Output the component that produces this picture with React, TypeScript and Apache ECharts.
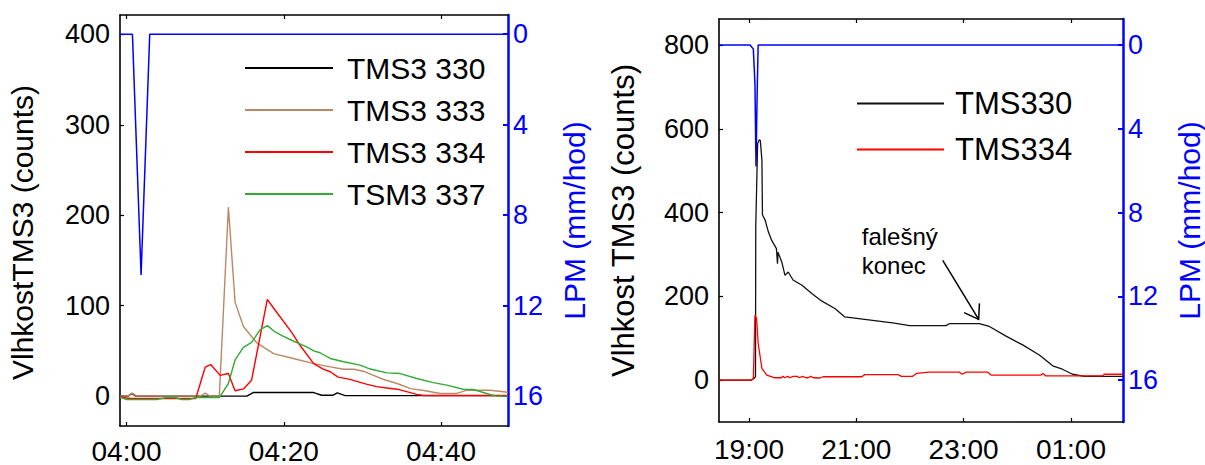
import React, { useEffect, useRef } from "react";
import * as echarts from "echarts";

// ---------- Left panel (x = minutes after 04:00) ----------
const leftTicksX = [0, 20, 40];
const leftTicksY = [0, 100, 200, 300, 400];
const lpmTicks = [0, 4, 8, 12, 16];

const rainLeft = [[-0.83, 0], [0.75, 0], [1.85, 10.65], [2.95, 0], [48.5, 0]];
const tms3_330 = [[-0.83, 0], [0.2, 0], [0.66, 3], [1.2, 0], [15.3, 0], [16.1, 4], [23.8, 4], [24.8, 1], [26.2, 1], [26.8, 3.7], [27.8, 0.6], [48.5, 0.6]];
const tms3_333 = [[-0.83, 0], [0.2, 0], [0.7, 3.5], [1.3, 0], [9.4, 0], [10, 3.5], [10.6, 0], [11.8, 0], [12.95, 209], [13.8, 104], [14.86, 77], [16.56, 59], [18.7, 47], [21.2, 41.7], [23.8, 36], [25.9, 32.4], [27.6, 29.8], [28.9, 29.8], [30.1, 27.6], [31.4, 23], [32.7, 18.4], [34.4, 14], [36.1, 8.3], [37.8, 6.3], [39.9, 3], [42, 3], [43.3, 6.6], [46.2, 6.6], [48.5, 4.4]];
const tms3_334 = [[-0.83, -1], [0.5, -2.6], [8.8, -2.6], [10, 32], [10.7, 35], [11.9, 23], [12.95, 25], [13.8, 6], [14.86, 8], [15.9, 17.7], [17.9, 107], [18.9, 95], [21, 70.5], [22.07, 56], [23.8, 36], [25, 30], [25.9, 27], [26.9, 21], [28.4, 18.5], [30.6, 13], [31.8, 10.5], [33.1, 9], [34.4, 7.7], [35.6, 5], [36.9, 2], [37.8, 0.8], [48.5, 0.8]];
const tsm3_337 = [[-0.83, -1], [0, -3.7], [3.8, -3.7], [5.1, -1.5], [6.2, -1.5], [7.0, -3.7], [8.0, -3.7], [8.8, -1.5], [11.8, -1.5], [12.95, 14], [13.8, 40], [14.86, 54], [15.9, 59.5], [17, 73.5], [17.9, 78], [18.9, 71], [19.95, 66], [21.2, 61], [22.9, 54.5], [23.8, 50], [24.6, 48], [25.9, 41.7], [27.6, 38], [29.7, 34.3], [31, 30], [33.1, 25.8], [34.8, 25], [36.9, 19.5], [39, 15], [40.7, 12.2], [42.8, 7.7], [44.1, 7.4], [46.2, 1.8], [47.1, 0], [48.5, 0]];

// ---------- Right panel (x = hours of day, 25 = 01:00 next day) ----------
const rightTicksX = [19, 21, 23, 25];
const rightTicksY = [0, 200, 400, 600, 800];

const rainRight = [[18.44, 0], [19.02, 0], [19.08, 0.2], [19.11, 1.85], [19.13, 5.8], [19.15, 2.5], [19.16, 1.2], [19.17, 0], [25.97, 0]];
const tms330 = [[18.44, 0], [19.05, 0], [19.1, 5], [19.12, 8], [19.125, 366], [19.16, 565], [19.19, 574], [19.21, 572], [19.24, 525], [19.25, 394], [19.3, 382], [19.36, 354], [19.42, 334], [19.51, 314], [19.53, 278], [19.54, 305], [19.61, 282], [19.67, 250], [19.73, 258], [19.82, 239], [19.98, 227], [20.17, 207], [20.35, 189], [20.6, 171], [20.78, 151], [20.97, 148], [21.34, 142], [21.71, 136], [21.99, 130], [22.67, 130], [22.74, 135], [23.29, 135], [23.48, 128], [23.79, 105], [24.1, 84], [24.41, 60], [24.66, 34], [24.84, 26], [25.03, 14], [25.25, 9], [25.97, 9]];
const tms334 = [[18.44, 0], [19.02, 0], [19.08, 3], [19.11, 155], [19.14, 147], [19.17, 88], [19.24, 28], [19.33, 12], [19.48, 5.6], [19.6, 5.6], [19.63, 9], [19.66, 5.6], [19.72, 9], [19.76, 5.6], [19.82, 9], [19.9, 9], [19.93, 5.6], [20.0, 9], [20.06, 5.6], [20.1, 5.6], [20.15, 9], [20.2, 5.6], [20.32, 5], [20.38, 8], [21.1, 8], [21.16, 13], [21.78, 13], [21.84, 9], [22.05, 9], [22.12, 16], [22.36, 19], [22.92, 19], [22.97, 14], [23.05, 19], [23.45, 19], [23.51, 12], [24.44, 12], [24.48, 16], [24.53, 10], [25.59, 10], [25.62, 14], [25.97, 14]];

const noteText = "falešný\nkonec";
const noteAnchor = [21.1, 377];
const arrowFrom = [22.61, 286];
const arrowTo = [23.28, 145];

const FONT = '"Liberation Sans", Arial, sans-serif';
const BLUE = "#0000ff";
const pad = (n: number) => String(n).padStart(2, "0");

function xAxisPair(grid: number, min: number, max: number, ticks: number[], fmt: (v: number) => string, margin: number) {
  const line = { show: true, onZero: false, lineStyle: { color: "#000", width: 1.6 } };
  return [
    {
      type: "value", gridIndex: grid, position: "bottom", min, max,
      axisLine: line,
      axisTick: { show: true, inside: true, length: 4, customValues: ticks, lineStyle: { color: "#000", width: 1.2 } },
      axisLabel: { show: true, customValues: ticks, formatter: fmt, fontSize: 28, color: "#000", margin, fontFamily: FONT },
      splitLine: { show: false },
    },
    {
      type: "value", gridIndex: grid, position: "top", min, max,
      axisLine: line,
      axisTick: { show: true, inside: true, length: 4, customValues: ticks, lineStyle: { color: "#000", width: 1.2 } },
      axisLabel: { show: false },
      splitLine: { show: false },
    },
  ];
}

function yAxisPair(grid: number, min: number, max: number, ticks: number[], lmin: number, lmax: number, name: string, nameGap: number, nameSize: number, namePad: number[]) {
  return [
    {
      type: "value", gridIndex: grid, position: "left", min, max,
      axisLine: { show: true, onZero: false, lineStyle: { color: "#000", width: 1.6 } },
      axisTick: { show: true, inside: true, length: 4, customValues: ticks, lineStyle: { color: "#000", width: 1.2 } },
      axisLabel: { show: true, customValues: ticks, fontSize: 27, color: "#000", margin: 10, fontFamily: FONT },
      splitLine: { show: false },
      name, nameLocation: "middle", nameGap, nameRotate: 90,
      nameTextStyle: { fontSize: nameSize, color: "#000", fontFamily: FONT, padding: namePad },
    },
    {
      type: "value", gridIndex: grid, position: "right", min: lmin, max: lmax, inverse: true,
      axisLine: { show: true, onZero: false, lineStyle: { color: BLUE, width: 2.5 } },
      axisTick: { show: true, inside: true, length: 5, customValues: lpmTicks, lineStyle: { color: BLUE, width: 2 } },
      axisLabel: { show: true, customValues: lpmTicks, fontSize: 27, color: BLUE, margin: 5, fontFamily: FONT },
      splitLine: { show: false },
      name: "LPM (mm/hod)", nameLocation: "middle", nameGap: 51, nameRotate: 90,
      nameTextStyle: { fontSize: 30, color: BLUE, fontFamily: FONT },
    },
  ];
}

function line(name: string, data: number[][], color: string, xi: number, yi: number, width = 1.4, z = 2) {
  return {
    type: "line", name, data, xAxisIndex: xi, yAxisIndex: yi, symbol: "none", showSymbol: false,
    lineStyle: { color, width }, itemStyle: { color }, z, silent: true,
  };
}

export default function App() {
  const ref = useRef<HTMLDivElement>(null);
  useEffect(() => {
    if (!ref.current) return;
    const chart = echarts.init(ref.current, null, { renderer: "svg" });
    const option: any = {
      animation: false,
      textStyle: { fontFamily: FONT },
      grid: [
        { left: 120, right: 697, top: 15, bottom: 39, containLabel: false },
        { left: 719, right: 81, top: 19, bottom: 43, containLabel: false },
      ],
      xAxis: [
        ...xAxisPair(0, -0.83, 48.5, leftTicksX, (v: number) => `04:${pad(Math.round(v))}`, 11),
        ...xAxisPair(1, 18.44, 25.97, rightTicksX, (v: number) => `${pad(Math.round(v) % 24)}:00`, 13),
      ],
      yAxis: [
        ...yAxisPair(0, -33, 421.5, leftTicksY, -0.85, 17.33, "VlhkostTMS3 (counts)", 83, 30, [0, 24, 0, 0]),
        ...yAxisPair(1, -100, 862, rightTicksY, -1.24, 18.0, "Vlhkost TMS3 (counts)", 80, 31, [0, 0, 0, 0]),
      ],
      legend: [
        {
          data: ["TMS3 330", "TMS3 333", "TMS3 334", "TSM3 337"],
          orient: "vertical", left: 245, top: 53, itemWidth: 88, itemHeight: 2, itemGap: 12, padding: 0,
          icon: "rect",
          textStyle: { fontSize: 30, color: "#000", fontFamily: FONT, padding: [0, 0, 0, 9] },
          selectedMode: false,
        },
        {
          data: ["TMS330", "TMS334"],
          orient: "vertical", left: 857, top: 88, itemWidth: 87, itemHeight: 2, itemGap: 15, padding: 0,
          icon: "rect",
          textStyle: { fontSize: 31, color: "#000", fontFamily: FONT, padding: [0, 0, 0, 6] },
          selectedMode: false,
        },
      ],
      series: [
        line("LPM left", rainLeft, BLUE, 0, 1, 1.5, 1),
        line("TMS3 330", tms3_330, "#000000", 0, 0),
        line("TMS3 333", tms3_333, "#bb8866", 0, 0),
        line("TMS3 334", tms3_334, "#ff0000", 0, 0),
        line("TSM3 337", tsm3_337, "#33aa33", 0, 0),
        line("LPM right", rainRight, BLUE, 2, 3, 1.5, 1),
        line("TMS330", tms330, "#111111", 2, 2, 1.3),
        line("TMS334", tms334, "#ff0000", 2, 2, 1.3),
      ],
    };
    chart.setOption(option);

    const tp = chart.convertToPixel({ gridIndex: 1 } as any, noteAnchor) as number[];
    const a0 = chart.convertToPixel({ gridIndex: 1 } as any, arrowFrom) as number[];
    const a1 = chart.convertToPixel({ gridIndex: 1 } as any, arrowTo) as number[];
    const ang = Math.atan2(a0[1] - a1[1], a0[0] - a1[0]);
    const L = 16, half = (34 * Math.PI) / 180;
    const armA = [a1[0] + L * Math.cos(ang - half), a1[1] + L * Math.sin(ang - half)];
    const armB = [a1[0] + L * Math.cos(ang + half), a1[1] + L * Math.sin(ang + half)];
    chart.setOption({
      graphic: [
        {
          type: "text", x: tp[0], y: tp[1], z: 10,
          style: { text: noteText, fontSize: 24, fontFamily: FONT, fill: "#000", lineHeight: 29, align: "left", verticalAlign: "top" },
        },
        { type: "line", z: 10, shape: { x1: a0[0], y1: a0[1], x2: a1[0], y2: a1[1] }, style: { stroke: "#000", lineWidth: 1.5 } },
        { type: "polyline", z: 10, shape: { points: [armA, a1, armB] }, style: { stroke: "#000", lineWidth: 1.5, fill: "none" } },
      ],
    });
    return () => chart.dispose();
  }, []);
  return <div ref={ref} style={{ position: "fixed", left: 0, top: 0, width: 1205, height: 465, background: "#fff" }} />;
}
